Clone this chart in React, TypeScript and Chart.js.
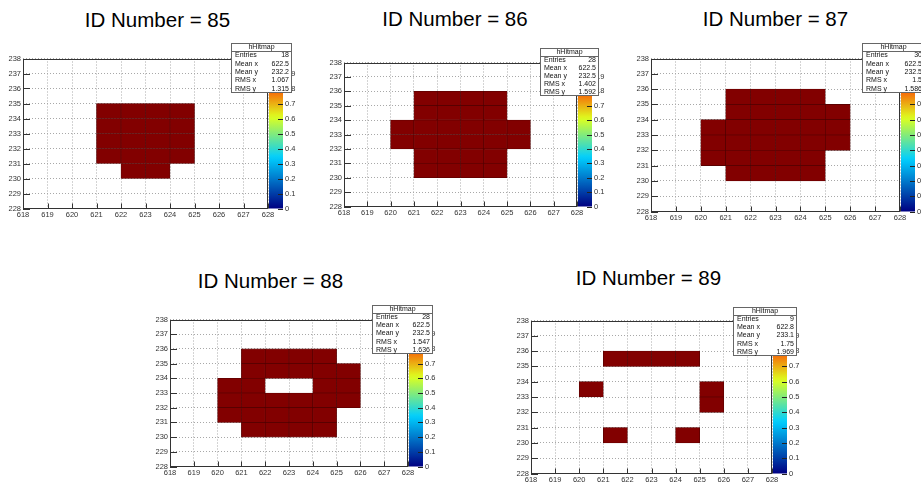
import React, { useEffect, useRef } from 'react';
import { Chart, registerables } from 'chart.js';

Chart.register(...registerables);

const FONT = '"Liberation Sans", Arial, Helvetica, sans-serif';

// ---------- data ----------
// bin low edges (columns: x, rows: y from top to bottom)
const X_BINS = [618, 619, 620, 621, 622, 623, 624, 625, 626, 627];
const Y_BINS = [237, 236, 235, 234, 233, 232, 231, 230, 229, 228];
const BIN_WIDTH = 1;
const X_RANGE = [618, 628];
const Y_RANGE = [228, 238];
const Z_RANGE = [0, 1];

const TITLES = ['ID Number = 85', 'ID Number = 86', 'ID Number = 87', 'ID Number = 88', 'ID Number = 89'];
const HIST_NAME = 'hHitmap';
const STAT_LABELS = ['Entries', 'Mean x', 'Mean y', 'RMS x', 'RMS y'];
const STATS_85 = ['18', '622.5', '232.2', '1.067', '1.315'];
const STATS_86 = ['28', '622.5', '232.5', '1.402', '1.592'];
const STATS_87 = ['30', '622.5', '232.5', '1.5', '1.586'];
const STATS_88 = ['28', '622.5', '232.5', '1.547', '1.636'];
const STATS_89 = ['9', '622.8', '233.1', '1.75', '1.969'];

const HITS_85 = [
  [0, 0, 0, 0, 0, 0, 0, 0, 0, 0],
  [0, 0, 0, 0, 0, 0, 0, 0, 0, 0],
  [0, 0, 0, 0, 0, 0, 0, 0, 0, 0],
  [0, 0, 0, 1, 1, 1, 1, 0, 0, 0],
  [0, 0, 0, 1, 1, 1, 1, 0, 0, 0],
  [0, 0, 0, 1, 1, 1, 1, 0, 0, 0],
  [0, 0, 0, 1, 1, 1, 1, 0, 0, 0],
  [0, 0, 0, 0, 1, 1, 0, 0, 0, 0],
  [0, 0, 0, 0, 0, 0, 0, 0, 0, 0],
  [0, 0, 0, 0, 0, 0, 0, 0, 0, 0],
];
const HITS_86 = [
  [0, 0, 0, 0, 0, 0, 0, 0, 0, 0],
  [0, 0, 0, 0, 0, 0, 0, 0, 0, 0],
  [0, 0, 0, 1, 1, 1, 1, 0, 0, 0],
  [0, 0, 0, 1, 1, 1, 1, 0, 0, 0],
  [0, 0, 1, 1, 1, 1, 1, 1, 0, 0],
  [0, 0, 1, 1, 1, 1, 1, 1, 0, 0],
  [0, 0, 0, 1, 1, 1, 1, 0, 0, 0],
  [0, 0, 0, 1, 1, 1, 1, 0, 0, 0],
  [0, 0, 0, 0, 0, 0, 0, 0, 0, 0],
  [0, 0, 0, 0, 0, 0, 0, 0, 0, 0],
];
const HITS_87 = [
  [0, 0, 0, 0, 0, 0, 0, 0, 0, 0],
  [0, 0, 0, 0, 0, 0, 0, 0, 0, 0],
  [0, 0, 0, 1, 1, 1, 1, 0, 0, 0],
  [0, 0, 0, 1, 1, 1, 1, 1, 0, 0],
  [0, 0, 1, 1, 1, 1, 1, 1, 0, 0],
  [0, 0, 1, 1, 1, 1, 1, 1, 0, 0],
  [0, 0, 1, 1, 1, 1, 1, 0, 0, 0],
  [0, 0, 0, 1, 1, 1, 1, 0, 0, 0],
  [0, 0, 0, 0, 0, 0, 0, 0, 0, 0],
  [0, 0, 0, 0, 0, 0, 0, 0, 0, 0],
];
const HITS_88 = [
  [0, 0, 0, 0, 0, 0, 0, 0, 0, 0],
  [0, 0, 0, 0, 0, 0, 0, 0, 0, 0],
  [0, 0, 0, 1, 1, 1, 1, 0, 0, 0],
  [0, 0, 0, 1, 1, 1, 1, 1, 0, 0],
  [0, 0, 1, 1, 0, 0, 1, 1, 0, 0],
  [0, 0, 1, 1, 1, 1, 1, 1, 0, 0],
  [0, 0, 1, 1, 1, 1, 1, 0, 0, 0],
  [0, 0, 0, 1, 1, 1, 1, 0, 0, 0],
  [0, 0, 0, 0, 0, 0, 0, 0, 0, 0],
  [0, 0, 0, 0, 0, 0, 0, 0, 0, 0],
];
const HITS_89 = [
  [0, 0, 0, 0, 0, 0, 0, 0, 0, 0],
  [0, 0, 0, 0, 0, 0, 0, 0, 0, 0],
  [0, 0, 0, 1, 1, 1, 1, 0, 0, 0],
  [0, 0, 0, 0, 0, 0, 0, 0, 0, 0],
  [0, 0, 1, 0, 0, 0, 0, 1, 0, 0],
  [0, 0, 0, 0, 0, 0, 0, 1, 0, 0],
  [0, 0, 0, 0, 0, 0, 0, 0, 0, 0],
  [0, 0, 0, 1, 0, 0, 1, 0, 0, 0],
  [0, 0, 0, 0, 0, 0, 0, 0, 0, 0],
  [0, 0, 0, 0, 0, 0, 0, 0, 0, 0],
];

const HITS = [HITS_85, HITS_86, HITS_87, HITS_88, HITS_89];
const STATS = [STATS_85, STATS_86, STATS_87, STATS_88, STATS_89];

// ROOT-like rainbow palette
const PAL_STOPS = [0, 0.34, 0.61, 0.84, 1];
const PAL_R = [0, 0, 0.87, 1, 0.51];
const PAL_G = [0, 0.81, 1, 0.2, 0];
const PAL_B = [0.51, 1, 0.12, 0, 0];

function paletteColor(f: number): string {
  const t = Math.max(0, Math.min(1, f));
  let i = 0;
  while (i < PAL_STOPS.length - 2 && t > PAL_STOPS[i + 1]) i++;
  const u = (t - PAL_STOPS[i]) / (PAL_STOPS[i + 1] - PAL_STOPS[i]);
  const c = (a: number[]) => Math.round(255 * (a[i] + (a[i + 1] - a[i]) * u));
  return `rgb(${c(PAL_R)},${c(PAL_G)},${c(PAL_B)})`;
}

// ---------- layout (page pixels) ----------
const LAYOUTS = [
  { plot: [23, 51, 268, 216], box: [231, 43, 61, 50], title: [157.5, 27] },
  { plot: [344, 55, 577, 214], box: [540, 48, 59, 48], title: [455, 26] },
  { plot: [651, 51, 900, 219], box: [862, 43, 63, 50], title: [775.5, 26] },
  { plot: [170, 312, 408, 474], box: [372, 305, 61, 49], title: [270.5, 288] },
  { plot: [531, 313, 772, 481], box: [733, 307, 64, 49], title: [648.5, 285.5] },
];
const AXIS_Y_W = 22;
const AXIS_X_H = 14;
const AXIS_Z_W = 40;
const PAD_T = 14;
const PAD_R = 2;
const CB_W = 15;
const LABEL_COLOR = '#333';
const GRID_COLOR = '#a8a8a8';
const TICK_FONT = { size: 7.5, family: FONT };

function makeDecor(boxRect: number[], values: string[]) {
  return {
    id: 'rootDecor',
    afterDatasetsDraw(chart: any) {
      const { ctx, chartArea: a, scales } = chart;
      const xs = scales.x, ys = scales.y, zs = scales.zaxis;
      ctx.save();
      // colour bar
      const cbL = a.right + 1, cbR = a.right + CB_W;
      const zTop = zs.getPixelForValue(Z_RANGE[1]);
      const zBot = zs.getPixelForValue(Z_RANGE[0]);
      const grad = ctx.createLinearGradient(0, zBot, 0, zTop);
      for (let k = 0; k <= 40; k++) grad.addColorStop(k / 40, paletteColor(k / 40));
      ctx.fillStyle = grad;
      ctx.fillRect(cbL, zTop, cbR - cbL, zBot - zTop);
      ctx.strokeStyle = '#222';
      ctx.lineWidth = 1;
      ctx.beginPath();
      zs.ticks.forEach((t: any) => {
        const py = Math.round(zs.getPixelForValue(t.value)) + 0.5;
        ctx.moveTo(cbR - 5, py);
        ctx.lineTo(cbR, py);
      });
      ctx.stroke();
      // frame
      ctx.strokeStyle = '#333';
      ctx.strokeRect(Math.round(a.left) + 0.5, Math.round(a.top) + 0.5, Math.round(a.width) - 1, Math.round(a.height) - 1);
      // inward ticks
      ctx.beginPath();
      xs.ticks.forEach((t: any) => {
        const px = Math.round(xs.getPixelForValue(t.value)) + 0.5;
        ctx.moveTo(px, a.bottom);
        ctx.lineTo(px, a.bottom - 5);
      });
      ys.ticks.forEach((t: any) => {
        const py = Math.round(ys.getPixelForValue(t.value)) + 0.5;
        ctx.moveTo(a.left, py);
        ctx.lineTo(a.left + 7, py);
      });
      ctx.stroke();
      ctx.restore();
    },
    afterDraw(chart: any) {
      const { ctx } = chart;
      const [bx, by, bw, bh] = boxRect;
      ctx.save();
      ctx.fillStyle = '#fff';
      ctx.fillRect(bx, by, bw, bh);
      ctx.strokeStyle = '#666';
      ctx.lineWidth = 1;
      ctx.strokeRect(bx + 0.5, by + 0.5, bw - 1, bh - 1);
      const hh = 8;
      ctx.beginPath();
      ctx.moveTo(bx, by + hh + 0.5);
      ctx.lineTo(bx + bw, by + hh + 0.5);
      ctx.stroke();
      ctx.fillStyle = '#111';
      ctx.font = `7px ${FONT}`;
      ctx.textBaseline = 'middle';
      ctx.textAlign = 'center';
      ctx.fillText(HIST_NAME, bx + bw / 2, by + hh / 2 + 0.5);
      const rh = (bh - hh) / STAT_LABELS.length;
      STAT_LABELS.forEach((lab, i) => {
        const yy = by + hh + rh * (i + 0.5);
        ctx.textAlign = 'left';
        ctx.fillText(lab, bx + 4, yy);
        ctx.textAlign = 'right';
        ctx.fillText(values[i], bx + bw - 3, yy);
      });
      ctx.restore();
    },
  };
}

function Panel({ idx }: { idx: number }) {
  const ref = useRef<HTMLCanvasElement>(null);
  const lay = LAYOUTS[idx];
  const [L, T, R, B] = lay.plot;
  const W = AXIS_Y_W + (R - L) + AXIS_Z_W + PAD_R;
  const H = PAD_T + (B - T) + AXIS_X_H;
  const cx = L - AXIS_Y_W;
  const cy = T - PAD_T;

  useEffect(() => {
    if (!ref.current) return;
    const cells: any[] = [];
    HITS[idx].forEach((row, r) =>
      row.forEach((v, c) => {
        if (v > 0) cells.push({ x: X_BINS[c] + BIN_WIDTH / 2, y: [Y_BINS[r], Y_BINS[r] + BIN_WIDTH], v });
      })
    );
    const box = [lay.box[0] - cx, lay.box[1] - cy, lay.box[2], lay.box[3]];
    const chart = new Chart(ref.current, {
      type: 'bar',
      data: {
        datasets: [
          {
            data: cells,
            backgroundColor: (c: any) => paletteColor((c.raw?.v ?? 1) / Z_RANGE[1]),
            borderColor: '#4c0000',
            borderWidth: 0.6,
            borderSkipped: false,
            barPercentage: 1,
            categoryPercentage: 1,
            grouped: false,
            xAxisID: 'x',
            yAxisID: 'y',
          } as any,
        ],
      },
      options: {
        animation: false,
        responsive: false,
        devicePixelRatio: 1,
        events: [],
        layout: { padding: { left: 0, top: PAD_T, right: PAD_R, bottom: 0 } },
        plugins: { legend: { display: false }, tooltip: { enabled: false }, title: { display: false } },
        scales: {
          x: {
            type: 'linear',
            min: X_RANGE[0],
            max: X_RANGE[1],
            offset: false,
            grid: { offset: false, color: GRID_COLOR, drawTicks: false, lineWidth: 1 },
            border: { display: false, dash: [1, 2] },
            ticks: {
              stepSize: 1,
              autoSkip: false,
              maxRotation: 0,
              padding: 2,
              font: TICK_FONT,
              color: LABEL_COLOR,
              callback: (v: any) => String(v),
            },
            afterFit: (s: any) => {
              s.height = AXIS_X_H;
            },
          },
          y: {
            type: 'linear',
            min: Y_RANGE[0],
            max: Y_RANGE[1],
            beginAtZero: false,
            grid: { color: GRID_COLOR, drawTicks: false, lineWidth: 1 },
            border: { display: false, dash: [1, 2] },
            ticks: {
              stepSize: 1,
              autoSkip: false,
              padding: 2,
              font: TICK_FONT,
              color: LABEL_COLOR,
              callback: (v: any) => String(v),
            },
            afterFit: (s: any) => {
              s.width = AXIS_Y_W;
            },
          },
          zaxis: {
            type: 'linear',
            axis: 'y',
            position: 'right',
            min: Z_RANGE[0],
            max: Z_RANGE[1],
            grid: { display: false, drawTicks: false },
            border: { display: false },
            ticks: {
              stepSize: 0.1,
              autoSkip: false,
              padding: CB_W + 2,
              font: TICK_FONT,
              color: LABEL_COLOR,
              callback: (v: any) => String(Number(Number(v).toFixed(1))),
            },
            afterFit: (s: any) => {
              s.width = AXIS_Z_W;
            },
          },
        } as any,
      },
      plugins: [makeDecor(box, STATS[idx])],
    });
    return () => chart.destroy();
  }, [idx]);

  return (
    <>
      <div
        style={{
          position: 'absolute',
          left: lay.title[0] - 150,
          width: 300,
          top: lay.title[1] - 17.3,
          textAlign: 'center',
          fontFamily: FONT,
          fontSize: '20.5px',
          lineHeight: '20.5px',
          color: '#000',
          whiteSpace: 'nowrap',
        }}
      >
        {TITLES[idx]}
      </div>
      <canvas
        ref={ref}
        width={W}
        height={H}
        style={{ position: 'absolute', left: cx, top: cy, width: W, height: H }}
      />
    </>
  );
}

export default function App() {
  return (
    <div
      style={{
        position: 'fixed',
        left: 0,
        top: 0,
        width: 921,
        height: 491,
        overflow: 'hidden',
        background: '#fff',
      }}
    >
      {LAYOUTS.map((_, i) => (
        <Panel key={i} idx={i} />
      ))}
    </div>
  );
}
